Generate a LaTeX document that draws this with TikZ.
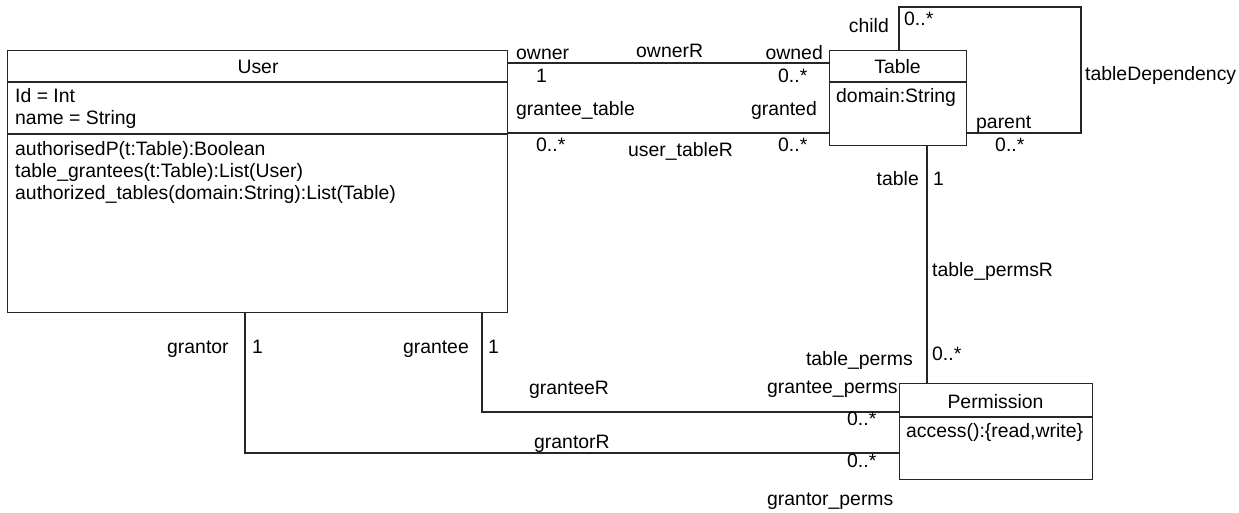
\documentclass[tikz,border=0pt]{standalone}
\usepackage{fontspec}
\setmainfont{Liberation Sans}
\begin{document}
\begin{tikzpicture}[x=1pt,y=-1pt,
  box/.style={draw=black!85, line width=1.1pt, fill=white, inner sep=0, anchor=north west},
  conn/.style={draw=black!85, line width=1.1pt},
  lbl/.style={inner sep=0, font=\fontsize{19.4}{22}\selectfont},
  lw/.style={lbl, anchor=base west},
  le/.style={lbl, anchor=base east},
  lc/.style={lbl, anchor=base},
  ]
\useasboundingbox[fill=white] (0,0) rectangle (1239,512);

% boxes
\node[box, minimum width=500, minimum height=262] (user) at (7,50) {};
\node[box, minimum width=137, minimum height=95] (table) at (829,50) {};
\node[box, minimum width=193, minimum height=96] (perm) at (899,383) {};

% compartment dividers
\draw[conn] (user.west |- 0,82) -- (user.east |- 0,82);
\draw[conn] (user.west |- 0,134) -- (user.east |- 0,134);
\draw[conn] (table.west |- 0,82) -- (table.east |- 0,82);
\draw[conn] (perm.west |- 0,417) -- (perm.east |- 0,417);

% connectors
\draw[conn] (user.east |- 0,63) -- (table.west |- 0,63);
\draw[conn] (user.east |- 0,133) -- (table.west |- 0,133);
\draw[conn] (table.north -| 899,0) |- (1081,7) |- (table.east |- 0,133);
\draw[conn] (table.south -| 927,0) -- (perm.north -| 927,0);
\draw[conn] (user.south -| 482,0) |- (perm.west |- 0,412);
\draw[conn] (user.south -| 245,0) |- (perm.west |- 0,453);

% class texts
\node[lc] (userT) at (258,73) {User};
\node[lw] (uA1) at (15,102) {Id = Int};
\node[lw] (uA2) at (15,124) {name = String};
\node[lw] (uM1) at (15,155) {authorisedP(t:Table):Boolean};
\node[lw] (uM2) at (15,177) {table\_grantees(t:Table):List(User)};
\node[lw] (uM3) at (15,199) {authorized\_tables(domain:String):List(Table)};
\node[lc] (tableT) at (897.5,73) {Table};
\node[lw] (tA1) at (836,102) {domain:String};
\node[lc] (permT) at (995.5,408) {Permission};
\node[lw] (pM1) at (906,437) {access():\{read,write\}};

% association labels
\node[lw] (l1) at (516,59) {owner};
\node[lw] (l2) at (636,57) {ownerR};
\node[le] (l3) at (823,59) {owned};
\node[lw] (l4) at (536,82) {1};
\node[lw] (l5) at (778,82) {0..*};
\node[lw] (l6) at (516,115) {grantee\_table};
\node[le] (l7) at (817,115) {granted};
\node[lw] (l8) at (536,151) {0..*};
\node[lw] (l9) at (628,156) {user\_tableR};
\node[lw] (l10) at (778,151) {0..*};
\node[le] (l11) at (889,32) {child};
\node[lw] (l12) at (904,25) {0..*};
\node[lw] (l13) at (1085,80) {tableDependency};
\node[lw] (l14) at (976,128) {parent};
\node[lw] (l15) at (995,151) {0..*};
\node[le] (l16) at (919,185) {table};
\node[lw] (l17) at (933,185) {1};
\node[lw] (l18) at (932,276) {table\_permsR};
\node[le] (l19) at (913,365) {table\_perms};
\node[lw] (l20) at (932,360) {0..*};
\node[lw] (l21) at (767,393) {grantee\_perms};
\node[lw] (l22) at (847,425) {0..*};
\node[lw] (l23) at (847,467) {0..*};
\node[lw] (l24) at (767,505) {grantor\_perms};
\node[lw] (l25) at (167,353) {grantor};
\node[lw] (l26) at (252,353) {1};
\node[le] (l27) at (469,353) {grantee};
\node[lw] (l28) at (488,353) {1};
\node[lw] (l29) at (529,394) {granteeR};
\node[lw] (l30) at (534,448) {grantorR};
\end{tikzpicture}
\end{document}
